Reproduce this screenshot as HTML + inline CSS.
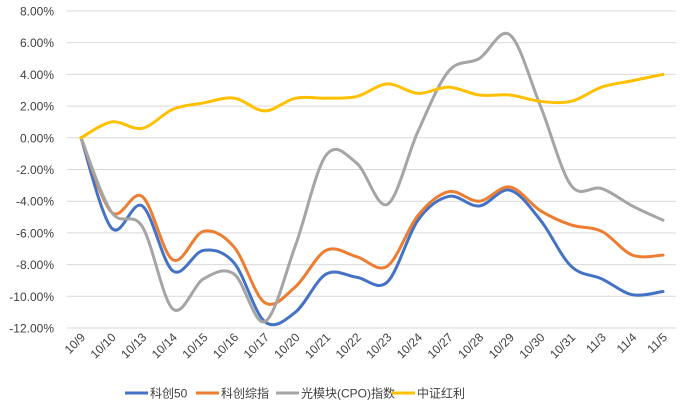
<!DOCTYPE html>
<html><head><meta charset="utf-8"><style>
html,body{margin:0;padding:0;background:#fff;}
svg{display:block;font-family:"Liberation Sans","Noto Sans CJK SC",sans-serif;}
</style></head><body>
<svg id="chart" width="692" height="412" viewBox="0 0 692 412"></svg>
<script>
const categories=["10/9","10/10","10/13","10/14","10/15","10/16","10/17","10/20","10/21","10/22","10/23","10/24","10/27","10/28","10/29","10/30","10/31","11/3","11/4","11/5"];
const seriesNames=["科创50","科创综指","光模块(CPO)指数","中证红利"];
const seriesColors=["#4472C4","#ED7D31","#A5A5A5","#FFC000"];
const kc50=[0,-5.7,-4.3,-8.4,-7.1,-7.9,-11.6,-11.0,-8.6,-8.8,-9.1,-5.2,-3.7,-4.3,-3.3,-5.2,-8.1,-8.9,-9.9,-9.7];
const kczz=[0,-4.7,-3.7,-7.7,-5.9,-6.9,-10.4,-9.4,-7.1,-7.5,-8.1,-4.9,-3.4,-4.0,-3.1,-4.6,-5.5,-5.9,-7.4,-7.4];
const cpo=[0,-4.7,-5.6,-10.8,-8.9,-8.6,-11.6,-6.8,-1.1,-1.6,-4.2,0.4,4.2,5.0,6.5,2.0,-3.0,-3.2,-4.3,-5.2];
const hongli=[0,1.0,0.6,1.8,2.2,2.5,1.7,2.5,2.5,2.6,3.4,2.8,3.2,2.7,2.7,2.3,2.3,3.2,3.6,4.0];
const yTicks=[8,6,4,2,0,-2,-4,-6,-8,-10,-12];
const allSeries=[kc50,kczz,cpo,hongli];

const NS="http://www.w3.org/2000/svg";
const svg=document.getElementById('chart');
const X0=81,X1=663,YTOP=11,YBOT=328,YMAX=8,YMIN=-12;
function xPos(i){return X0+(X1-X0)*i/(categories.length-1);}
function yPos(v){return YTOP+(YMAX-v)/(YMAX-YMIN)*(YBOT-YTOP);}
function mk(t,a){const e=document.createElementNS(NS,t);for(const k in a)e.setAttribute(k,a[k]);svg.appendChild(e);return e;}

yTicks.forEach(t=>{
  const g=mk('line',{x1:67,x2:676,y1:yPos(t),y2:yPos(t),stroke:'#D9D9D9','stroke-width':1});
  
  
  const tx=mk('text',{x:54,y:yPos(t)+4.5,'text-anchor':'end','font-size':12,fill:'#404040'});
  tx.textContent=t.toFixed(2)+'%';
  
  
});
categories.forEach((c,i)=>{
  const x=xPos(i)+5,y=338;
  const tx=mk('text',{x:x,y:y,'text-anchor':'end','font-size':12,fill:'#404040',transform:`rotate(-45 ${x} ${y})`});
  tx.textContent=c;
  
  
});
function smoothPath(vals){
  const p=vals.map((v,i)=>[xPos(i),yPos(v)]);
  let d=`M${p[0][0]},${p[0][1]}`;
  for(let i=0;i<p.length-1;i++){
    const p0=p[i-1]||p[i],p1=p[i],p2=p[i+1],p3=p[i+2]||p[i+1];
    const c1=[p1[0]+(p2[0]-p0[0])/6,p1[1]+(p2[1]-p0[1])/6];
    const c2=[p2[0]-(p3[0]-p1[0])/6,p2[1]-(p3[1]-p1[1])/6];
    d+=` C${c1[0]},${c1[1]} ${c2[0]},${c2[1]} ${p2[0]},${p2[1]}`;
  }
  return d;
}
allSeries.forEach((s,k)=>{
  const path=mk('path',{d:smoothPath(s),fill:'none',stroke:seriesColors[k],'stroke-width':3,'stroke-linejoin':'round','stroke-linecap':'round'});
  
  
});
const legX=[125,196,276,392];
seriesNames.forEach((n,k)=>{
  const l=mk('line',{x1:legX[k],x2:legX[k]+23,y1:393,y2:393,stroke:seriesColors[k],'stroke-width':3});
  
  
  const t=mk('text',{x:legX[k]+25,y:397.5,'font-size':12,fill:'#404040'});
  t.textContent=n;
  
  
});
</script>
</body></html>
